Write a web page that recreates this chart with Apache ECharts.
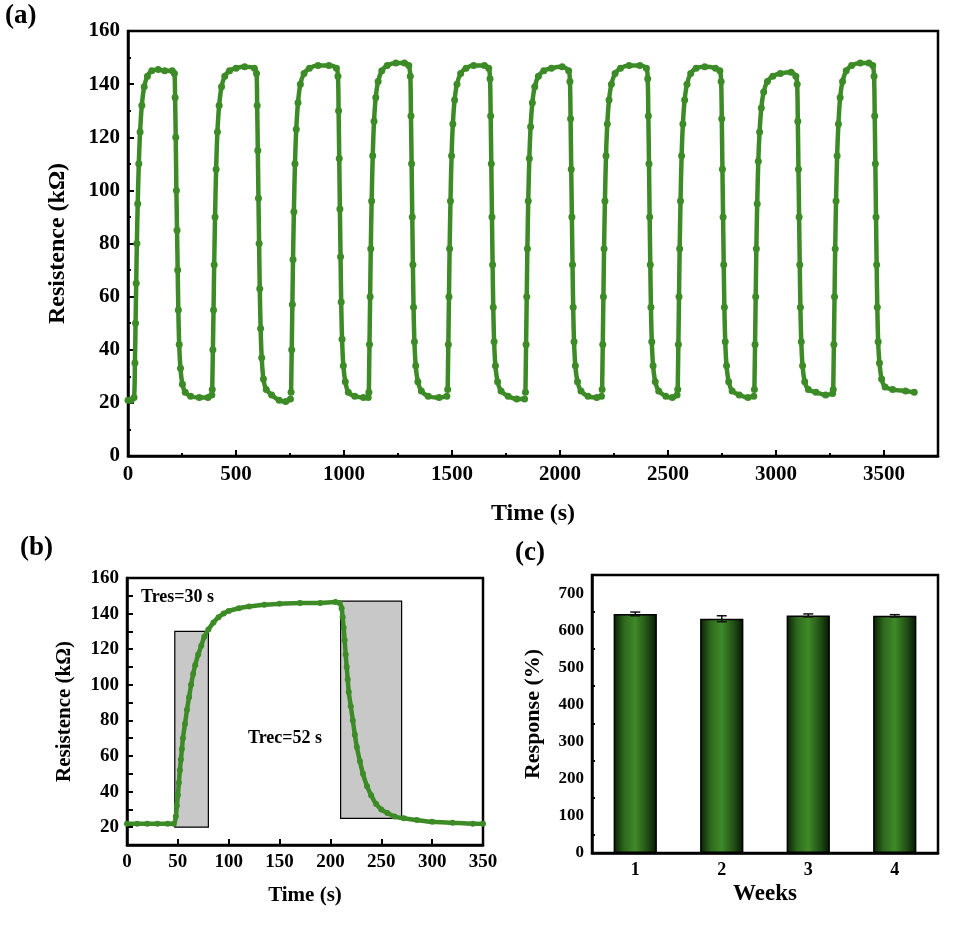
<!DOCTYPE html>
<html><head><meta charset="utf-8">
<script src="https://cdn.jsdelivr.net/npm/echarts@6/dist/echarts.min.js"></script>
<style>html,body{margin:0;padding:0;background:#fff}#c{width:956px;height:938px}</style>
</head><body><div id="c"></div>
<script>
// Panel (a): ten response/recovery cycles, [time s, resistance kΩ]
const cycle1 = [[0,21],[15,21],[28,22],[32,35],[35,50],[38,65],[41,80],[45,95],[50,110],[56,122],[64,132],[75,139],[90,143],[110,145],[140,145.5],[170,145],[205,145],[215,144],[218,135],[221,120],[224,100],[227,85],[230,70],[233,55],[237,42],[243,33],[252,27],[265,24],[290,22.5],[330,22],[370,22],[388,23]];
const cycle2 = [[390,25],[393,40],[396,55],[399,72],[403,90],[408,108],[414,122],[422,132],[433,139],[448,143],[470,145],[500,146],[540,146.5],[585,146],[595,144],[598,132],[601,115],[604,97],[607,80],[610,63],[614,48],[619,37],[627,29],[640,25],[665,23],[700,21],[730,20.5],[752,21.5]];
const cycle3 = [[755,24],[758,40],[761,57],[764,74],[768,92],[773,110],[779,123],[787,133],[798,140],[815,144],[840,146],[880,147],[930,147],[965,146],[972,143],[975,130],[978,112],[981,93],[984,75],[987,58],[991,44],[997,34],[1006,28],[1020,24],[1050,22.5],[1090,22],[1112,22]];
const cycle4 = [[1115,24],[1118,42],[1121,60],[1124,78],[1128,96],[1133,113],[1139,126],[1147,135],[1158,141],[1175,145],[1200,147],[1240,148],[1280,148],[1300,147],[1307,143],[1310,128],[1313,110],[1316,90],[1319,72],[1322,56],[1326,43],[1332,34],[1342,28],[1358,24.5],[1390,22.5],[1440,22],[1476,22.5]];
const cycle5 = [[1480,25],[1483,42],[1486,60],[1489,78],[1493,96],[1498,113],[1504,125],[1512,134],[1523,140],[1540,144],[1565,146],[1600,147],[1650,147],[1670,146],[1676,142],[1679,128],[1682,110],[1685,90],[1688,72],[1691,56],[1695,43],[1701,34],[1711,28],[1727,24.5],[1760,22.5],[1800,21.5],[1836,21.5]];
const cycle6 = [[1840,24],[1843,42],[1846,60],[1849,78],[1853,96],[1858,112],[1864,124],[1872,133],[1883,139],[1900,143],[1925,145],[1960,146],[2010,146.5],[2040,145],[2046,141],[2049,127],[2052,108],[2055,90],[2058,72],[2061,56],[2065,43],[2071,34],[2081,28],[2097,24.5],[2130,22.5],[2170,22],[2192,22.5]];
const cycle7 = [[2195,25],[2198,42],[2201,60],[2204,78],[2208,96],[2213,113],[2219,125],[2227,134],[2238,140],[2255,144],[2280,146],[2320,147],[2370,147],[2400,146],[2406,142],[2409,128],[2412,110],[2415,90],[2418,72],[2421,56],[2425,43],[2431,34],[2441,28],[2457,24.5],[2490,22.5],[2520,22],[2542,23]];
const cycle8 = [[2545,25],[2548,42],[2551,60],[2554,78],[2558,96],[2563,113],[2569,125],[2577,134],[2588,140],[2605,144],[2630,146],[2670,146.5],[2720,146],[2740,145],[2746,141],[2749,127],[2752,108],[2755,90],[2758,72],[2761,56],[2765,43],[2771,34],[2781,28],[2797,24.5],[2830,23],[2870,22],[2897,22.5]];
const cycle9 = [[2900,25],[2903,42],[2906,60],[2909,78],[2913,95],[2918,111],[2924,122],[2932,131],[2943,137],[2960,141],[2985,143],[3020,144],[3070,144.5],[3092,143],[3098,140],[3101,126],[3104,108],[3107,90],[3110,72],[3113,56],[3117,43],[3123,34],[3133,28],[3150,25],[3185,24],[3230,23],[3262,23.5]];
const cycle10 = [[3265,25],[3268,42],[3271,60],[3274,78],[3278,96],[3283,113],[3289,125],[3297,135],[3308,141],[3325,145],[3350,147],[3390,148],[3430,148],[3448,147],[3454,143],[3457,128],[3460,110],[3463,90],[3466,72],[3469,56],[3473,43],[3479,35],[3489,29],[3505,26],[3540,25],[3600,24.5],[3640,24]];
const cyclesA = [cycle1,cycle2,cycle3,cycle4,cycle5,cycle6,cycle7,cycle8,cycle9,cycle10];

// Panel (b): single cycle
const curveB = [[0,22],[10,22],[20,22],[30,22],[40,22],[46,22],[48,26],[49,32],[50,38],[51,45],[52,52],[53,58],[54,64],[55,70],[57,78],[59,86],[61,93],[63,100],[65,106],[67,111],[70,117],[73,122],[76,127],[80,131],[85,135],[90,138],[95,140],[100,141.5],[110,143],[120,144],[135,145],[150,145.5],[170,146],[190,146],[205,146.5],[209,146],[211,143],[212,138],[213,132],[214,125],[215,117],[216,110],[217,103],[218,96],[220,88],[222,80],[224,72],[226,65],[229,57],[232,50],[236,43],[240,38],[245,33],[250,30],[256,28],[263,26],[272,25],[285,24],[300,23],[320,22.5],[340,22],[350,22]];
const resRect = [47,80,20,130];
const recRect = [210,270,25,147];

// Panel (c)
const weeks = ['1','2','3','4'];
const response = [645,632,641,640];
const responseErr = [5,8,4,3];

const font = 'Liberation Serif';
const axBase = (fs)=>({axisLine:{show:true,onZero:false,lineStyle:{color:'#000',width:2.5}},axisTick:{inside:true,length:6,lineStyle:{color:'#000',width:2}},minorTick:{show:true,length:3,lineStyle:{color:'#000',width:2}},axisLabel:{color:'#000',fontFamily:font,fontWeight:'bold',fontSize:fs},splitLine:{show:false},nameLocation:'middle',nameTextStyle:{color:'#000',fontFamily:font,fontWeight:'bold',fontSize:fs+2}});
const green = '#3d8b27';
const chart = echarts.init(document.getElementById('c'));
const series = cyclesA.map(c=>({type:'line',xAxisIndex:0,yAxisIndex:0,data:c,symbol:'circle',symbolSize:7,showSymbol:true,itemStyle:{color:green},lineStyle:{color:green,width:4.5},smooth:0.3,silent:true,animation:false}));
series.push({type:'line',xAxisIndex:1,yAxisIndex:1,data:curveB,symbol:'circle',symbolSize:6,itemStyle:{color:green},lineStyle:{color:green,width:4.5},smooth:0.3,animation:false,z:5,
  markArea:{silent:true,itemStyle:{color:'#c8c8c8',borderColor:'#000',borderWidth:1.2},data:[[{coord:[resRect[0],resRect[2]]},{coord:[resRect[1],resRect[3]]}],[{coord:[recRect[0],recRect[2]]},{coord:[recRect[1],recRect[3]]}]]}});
series.push({type:'bar',xAxisIndex:2,yAxisIndex:2,data:response,barWidth:'50%',animation:false,itemStyle:{borderColor:'#000',borderWidth:1.5,color:new echarts.graphic.LinearGradient(0,0,1,0,[{offset:0,color:'#0a1e05'},{offset:0.25,color:'#2f6a1e'},{offset:0.5,color:'#3f8a28'},{offset:0.8,color:'#1f4a14'},{offset:1,color:'#061403'}])}});
series.push({type:'custom',xAxisIndex:2,yAxisIndex:2,animation:false,z:10,data:response.map((v,i)=>[i,v,responseErr[i]]),renderItem:(p,api)=>{const x=api.value(0),v=api.value(1),e=api.value(2);const hi=api.coord([x,v+e]),lo=api.coord([x,v-e]);const s={stroke:'#111',lineWidth:1.5};return {type:'group',children:[{type:'line',shape:{x1:hi[0],y1:hi[1],x2:lo[0],y2:lo[1]},style:s},{type:'line',shape:{x1:hi[0]-5,y1:hi[1],x2:hi[0]+5,y2:hi[1]},style:s},{type:'line',shape:{x1:lo[0]-5,y1:lo[1],x2:lo[0]+5,y2:lo[1]},style:s}]};}});
chart.setOption({
  animation:false,
  grid:[{left:128,top:31,right:18,bottom:482,show:true,borderColor:'#000',borderWidth:2.5},
        {left:127,top:578,right:473,bottom:93,show:true,borderColor:'#000',borderWidth:2.5},
        {left:592,top:575,right:18,bottom:85,show:true,borderColor:'#000',borderWidth:2.5}],
  xAxis:[Object.assign(axBase(21),{type:'value',gridIndex:0,min:0,max:3750,interval:500,minorTick:{show:true,splitNumber:2,length:3,lineStyle:{color:'#000',width:2}},name:'Time (s)',nameGap:46,nameTextStyle:{color:'#000',fontFamily:font,fontWeight:'bold',fontSize:24},axisLabel:{color:'#000',fontFamily:font,fontWeight:'bold',fontSize:21,formatter:v=>v>3500?'':v}}),
         Object.assign(axBase(19),{type:'value',gridIndex:1,min:0,max:350,interval:50,minorTick:{show:false},name:'Time (s)',nameGap:40}),
         Object.assign(axBase(18),{type:'category',gridIndex:2,data:weeks,axisTick:{show:false},minorTick:{show:false},name:'Weeks',nameGap:30,nameTextStyle:{color:'#000',fontFamily:font,fontWeight:'bold',fontSize:23}})],
  yAxis:[Object.assign(axBase(21),{type:'value',gridIndex:0,min:0,max:160,interval:20,minorTick:{show:true,splitNumber:2,length:3,lineStyle:{color:'#000',width:2}},name:'Resistence (kΩ)',nameGap:58,nameTextStyle:{color:'#000',fontFamily:font,fontWeight:'bold',fontSize:24}}),
         Object.assign(axBase(19),{type:'value',gridIndex:1,min:10,max:160,interval:10,minorTick:{show:false},axisLabel:{color:'#000',fontFamily:font,fontWeight:'bold',fontSize:19,formatter:v=>(v%20===0)?v:''},name:'Resistence (kΩ)',nameGap:52,nameTextStyle:{color:'#000',fontFamily:font,fontWeight:'bold',fontSize:21}}),
         Object.assign(axBase(17),{type:'value',gridIndex:2,min:0,max:750,interval:100,minorTick:{show:true,splitNumber:2,length:3,lineStyle:{color:'#000',width:2}},axisLabel:{color:'#000',fontFamily:font,fontWeight:'bold',fontSize:17,formatter:v=>v>700?'':v},name:'Response (%)',nameGap:48,nameTextStyle:{color:'#000',fontFamily:font,fontWeight:'bold',fontSize:22}})],
  graphic:[
    {type:'text',left:5,top:3,style:{text:'(a)',font:'bold 27px "Liberation Serif"',fill:'#000'}},
    {type:'text',left:20,top:535,style:{text:'(b)',font:'bold 27px "Liberation Serif"',fill:'#000'}},
    {type:'text',left:515,top:540,style:{text:'(c)',font:'bold 27px "Liberation Serif"',fill:'#000'}},
    {type:'text',left:141,top:588,style:{text:'Tres=30 s',font:'bold 18px "Liberation Serif"',fill:'#000'}},
    {type:'text',left:248,top:729,style:{text:'Trec=52 s',font:'bold 18px "Liberation Serif"',fill:'#000'}}
  ],
  series:series
});
</script></body></html>
